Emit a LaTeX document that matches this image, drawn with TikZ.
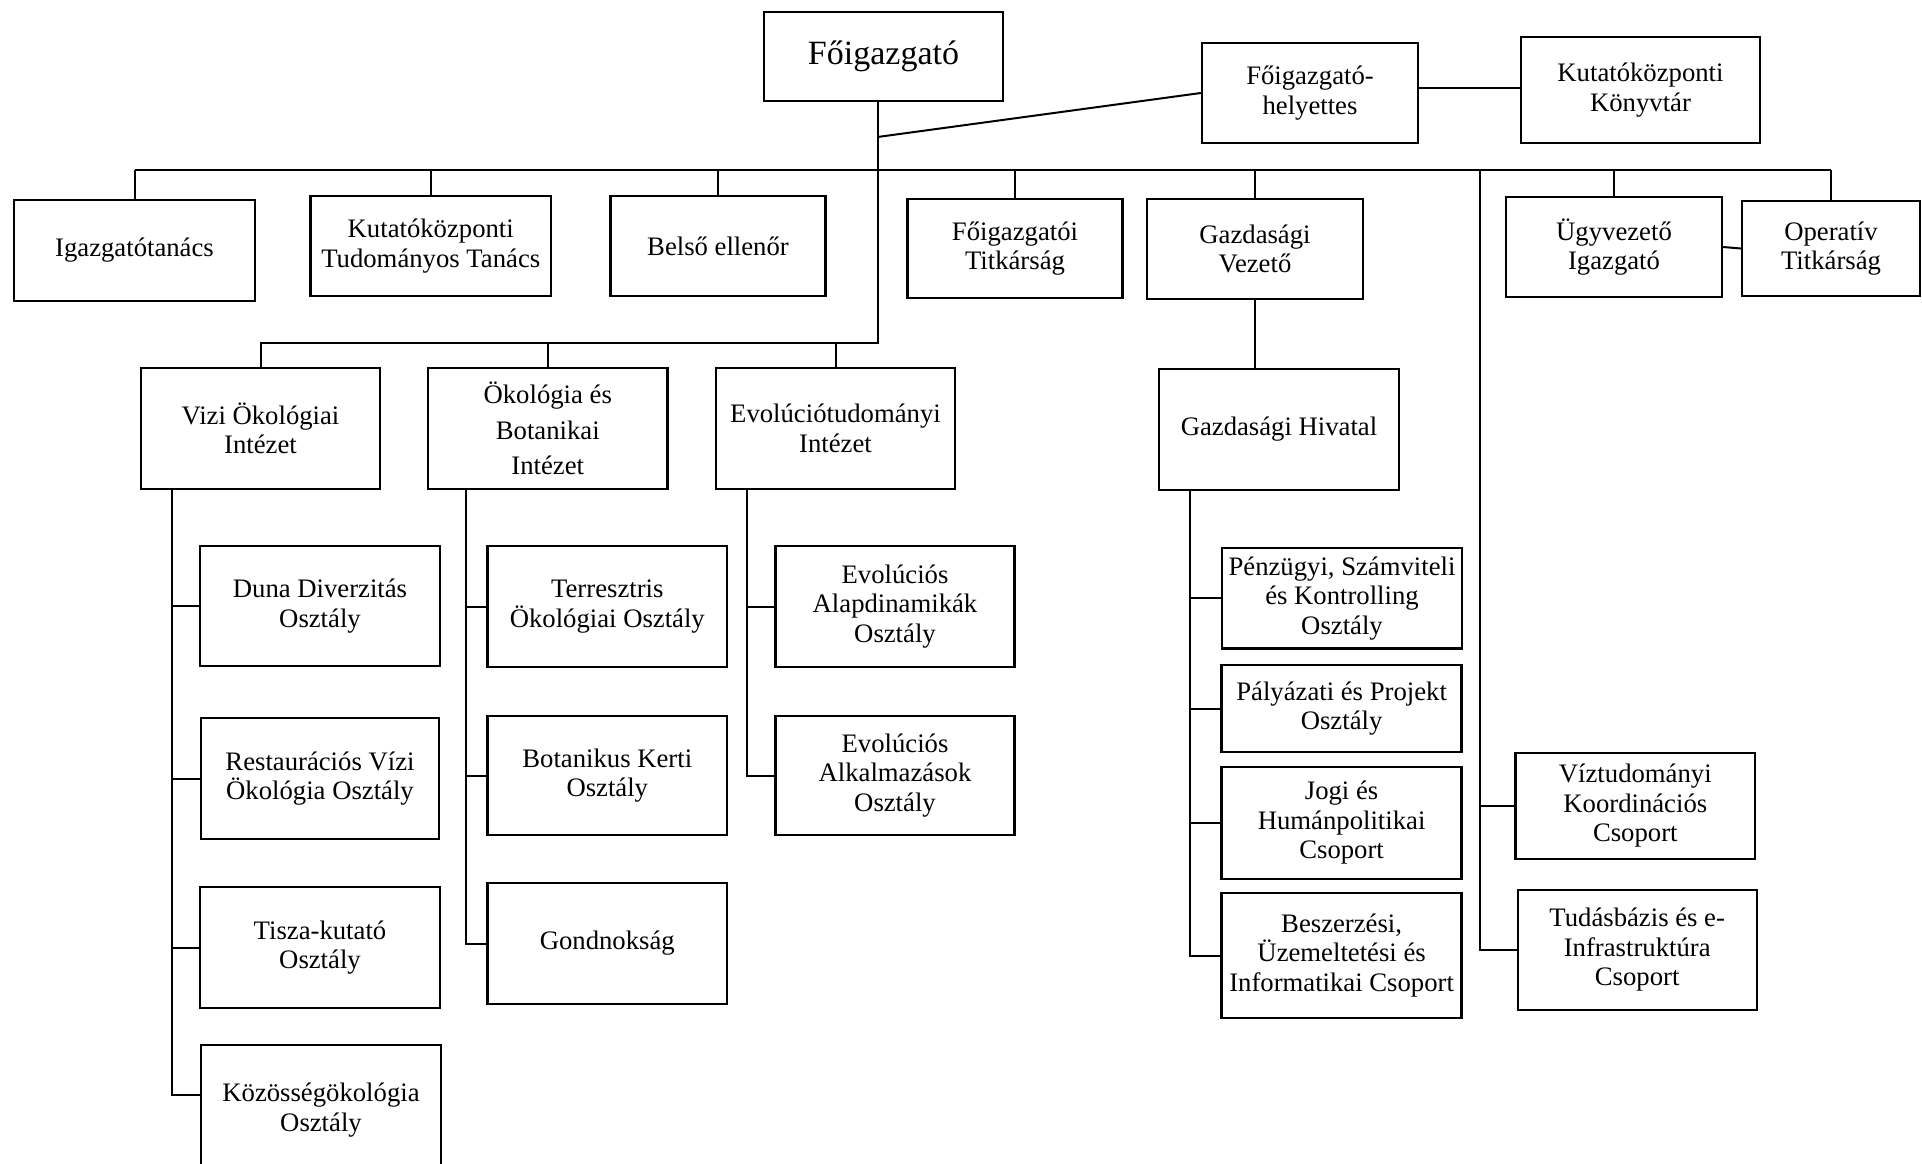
\documentclass[tikz,border=0pt]{standalone}
\usepackage{fontspec}
\setmainfont{Liberation Serif}
\usepackage{tikz}
\tikzset{box/.style={draw, line width=2.4pt, align=center, inner sep=1pt,
  font=\fontsize{26.7}{29.5}\selectfont}}
\tikzset{wh/.style 2 args={minimum width=#1pt, minimum height=#2pt}}
\tikzset{link/.style={line width=2pt}}

\begin{document}
\begin{tikzpicture}[x=1pt, y=-1pt]
\useasboundingbox (0,0) rectangle (1922,1163);

\node[box, wh={239}{89}, font=\fontsize{34}{38}\selectfont] (fo) at (883.5,56.5) {Főigazgató};
\node[box, wh={216}{100}] (hely) at (1310,93) {Főigazgató-\\helyettes};
\node[box, wh={239}{106}] (konyv) at (1640.5,90) {Kutatóközponti\\Könyvtár};

\node[box, wh={241}{101}] (igt) at (134.5,250.5) {Igazgatótanács};
\node[box, wh={240.5}{100}] (ktt) at (430.75,246) {Kutatóközponti\\Tudományos Tanács};
\node[box, wh={215}{100}] (belso) at (718,246) {Belső ellenőr};
\node[box, wh={215}{99}] (ft) at (1015,248.5) {Főigazgatói\\Titkárság};
\node[box, wh={216}{100}] (gv) at (1255,249) {Gazdasági\\Vezető};
\node[box, wh={216}{100}] (ui) at (1614,247) {Ügyvezető\\Igazgató};
\node[box, wh={178}{95}] (ot) at (1831,248.5) {Operatív\\Titkárság};

\node[box, wh={240}{121}] (gh) at (1279,429.5) {Gazdasági Hivatal};
\node[box, wh={239}{121}] (vizi) at (260.5,428.5) {Vizi Ökológiai\\Intézet};
\node[box, wh={239.5}{121}] (okbot) at (547.75,428.5) {Ökológia és\\[6pt]Botanikai\\[6pt]Intézet};
\node[box, wh={239}{121}] (evo) at (835.5,428.5) {Evolúciótudományi\\Intézet};

\node[box, wh={240}{120}] (duna) at (320,606) {Duna Diverzitás\\Osztály};
\node[box, wh={238}{121}] (rest) at (320,778.5) {Restaurációs Vízi\\Ökológia Osztály};
\node[box, wh={240}{121}] (tisza) at (320,947.5) {Tisza-kutató\\Osztály};
\node[box, wh={240}{130}] (kozos) at (321,1110) {Közösségökológia\\Osztály};

\node[box, wh={239.4}{121}] (terr) at (607.3,606.5) {Terresztris\\Ökológiai Osztály};
\node[box, wh={239.4}{119}] (bot) at (607.3,775.5) {Botanikus Kerti\\Osztály};
\node[box, wh={239.4}{121}] (gond) at (607.3,943.5) {Gondnokság};

\node[box, wh={239}{121}] (alap) at (895,606.5) {Evolúciós\\Alapdinamikák\\Osztály};
\node[box, wh={239}{119}] (alk) at (895,775.5) {Evolúciós\\Alkalmazások\\Osztály};

\node[box, wh={239.6}{100.6}] (penz) at (1342,598.3) {Pénzügyi, Számviteli\\és Kontrolling\\Osztály};
\node[box, wh={240}{87}] (paly) at (1341.6,708.5) {Pályázati és Projekt\\Osztály};
\node[box, wh={240}{111.5}] (jogi) at (1341.6,823) {Jogi és\\Humánpolitikai\\Csoport};
\node[box, wh={240}{125}] (besz) at (1341.6,955.5) {Beszerzési,\\Üzemeltetési és\\Informatikai Csoport};

\node[box, wh={239.4}{106}] (viz) at (1635.3,806) {Víztudományi\\Koordinációs\\Csoport};
\node[box, wh={239}{120}] (tud) at (1637.2,950) {Tudásbázis és e-\\Infrastruktúra\\Csoport};

\coordinate (trunk) at (877.5,137);
\coordinate (bus) at (0,170);
\coordinate (bus2) at (0,343);
\coordinate (c1) at (171.5,0);
\coordinate (c2) at (465.5,0);
\coordinate (c3) at (747,0);
\coordinate (c4) at (1190,0);
\coordinate (c5) at (1480,0);

\draw[link] (fo.south -| trunk) -- (trunk |- bus2) -- (vizi.north |- bus2) -- (vizi.north);
\draw[link] (trunk) -- (hely.west);
\draw[link] ([yshift=5pt]hely.east) -- ([yshift=5pt]konyv.west |- hely.east);
\draw[link] (okbot.north |- bus2) -- (okbot.north);
\draw[link] (evo.north |- bus2) -- (evo.north);

\draw[link] (igt.north |- bus) -- (ot.north |- bus);
\draw[link] (igt.north |- bus) -- (igt.north);
\draw[link] (ktt.north |- bus) -- (ktt.north);
\draw[link] (belso.north |- bus) -- (belso.north);
\draw[link] (ft.north |- bus) -- (ft.north);
\draw[link] (gv.north |- bus) -- (gv.north);
\draw[link] (ui.north |- bus) -- (ui.north);
\draw[link] (ot.north |- bus) -- (ot.north);
\draw[link] (ui.east) -- (ot.west);
\draw[link] (gv.south) -- (gv.south |- gh.north);

\draw[link] (vizi.south -| c1) -- (c1 |- 0,1095) -- ([yshift=15pt]kozos.west);
\draw[link] (c1 |- duna.west) -- (duna.west);
\draw[link] (c1 |- rest.west) -- (rest.west);
\draw[link] (c1 |- tisza.west) -- (tisza.west);

\draw[link] (okbot.south -| c2) |- (gond.west);
\draw[link] (c2 |- terr.west) -- (terr.west);
\draw[link] (c2 |- bot.west) -- (bot.west);

\draw[link] (evo.south -| c3) |- (alk.west);
\draw[link] (c3 |- alap.west) -- (alap.west);

\draw[link] (gh.south -| c4) |- (besz.west);
\draw[link] (c4 |- penz.west) -- (penz.west);
\draw[link] (c4 |- paly.west) -- (paly.west);
\draw[link] (c4 |- jogi.west) -- (jogi.west);

\draw[link] (c5 |- bus) |- (tud.west);
\draw[link] (c5 |- viz.west) -- (viz.west);
\end{tikzpicture}
\end{document}
